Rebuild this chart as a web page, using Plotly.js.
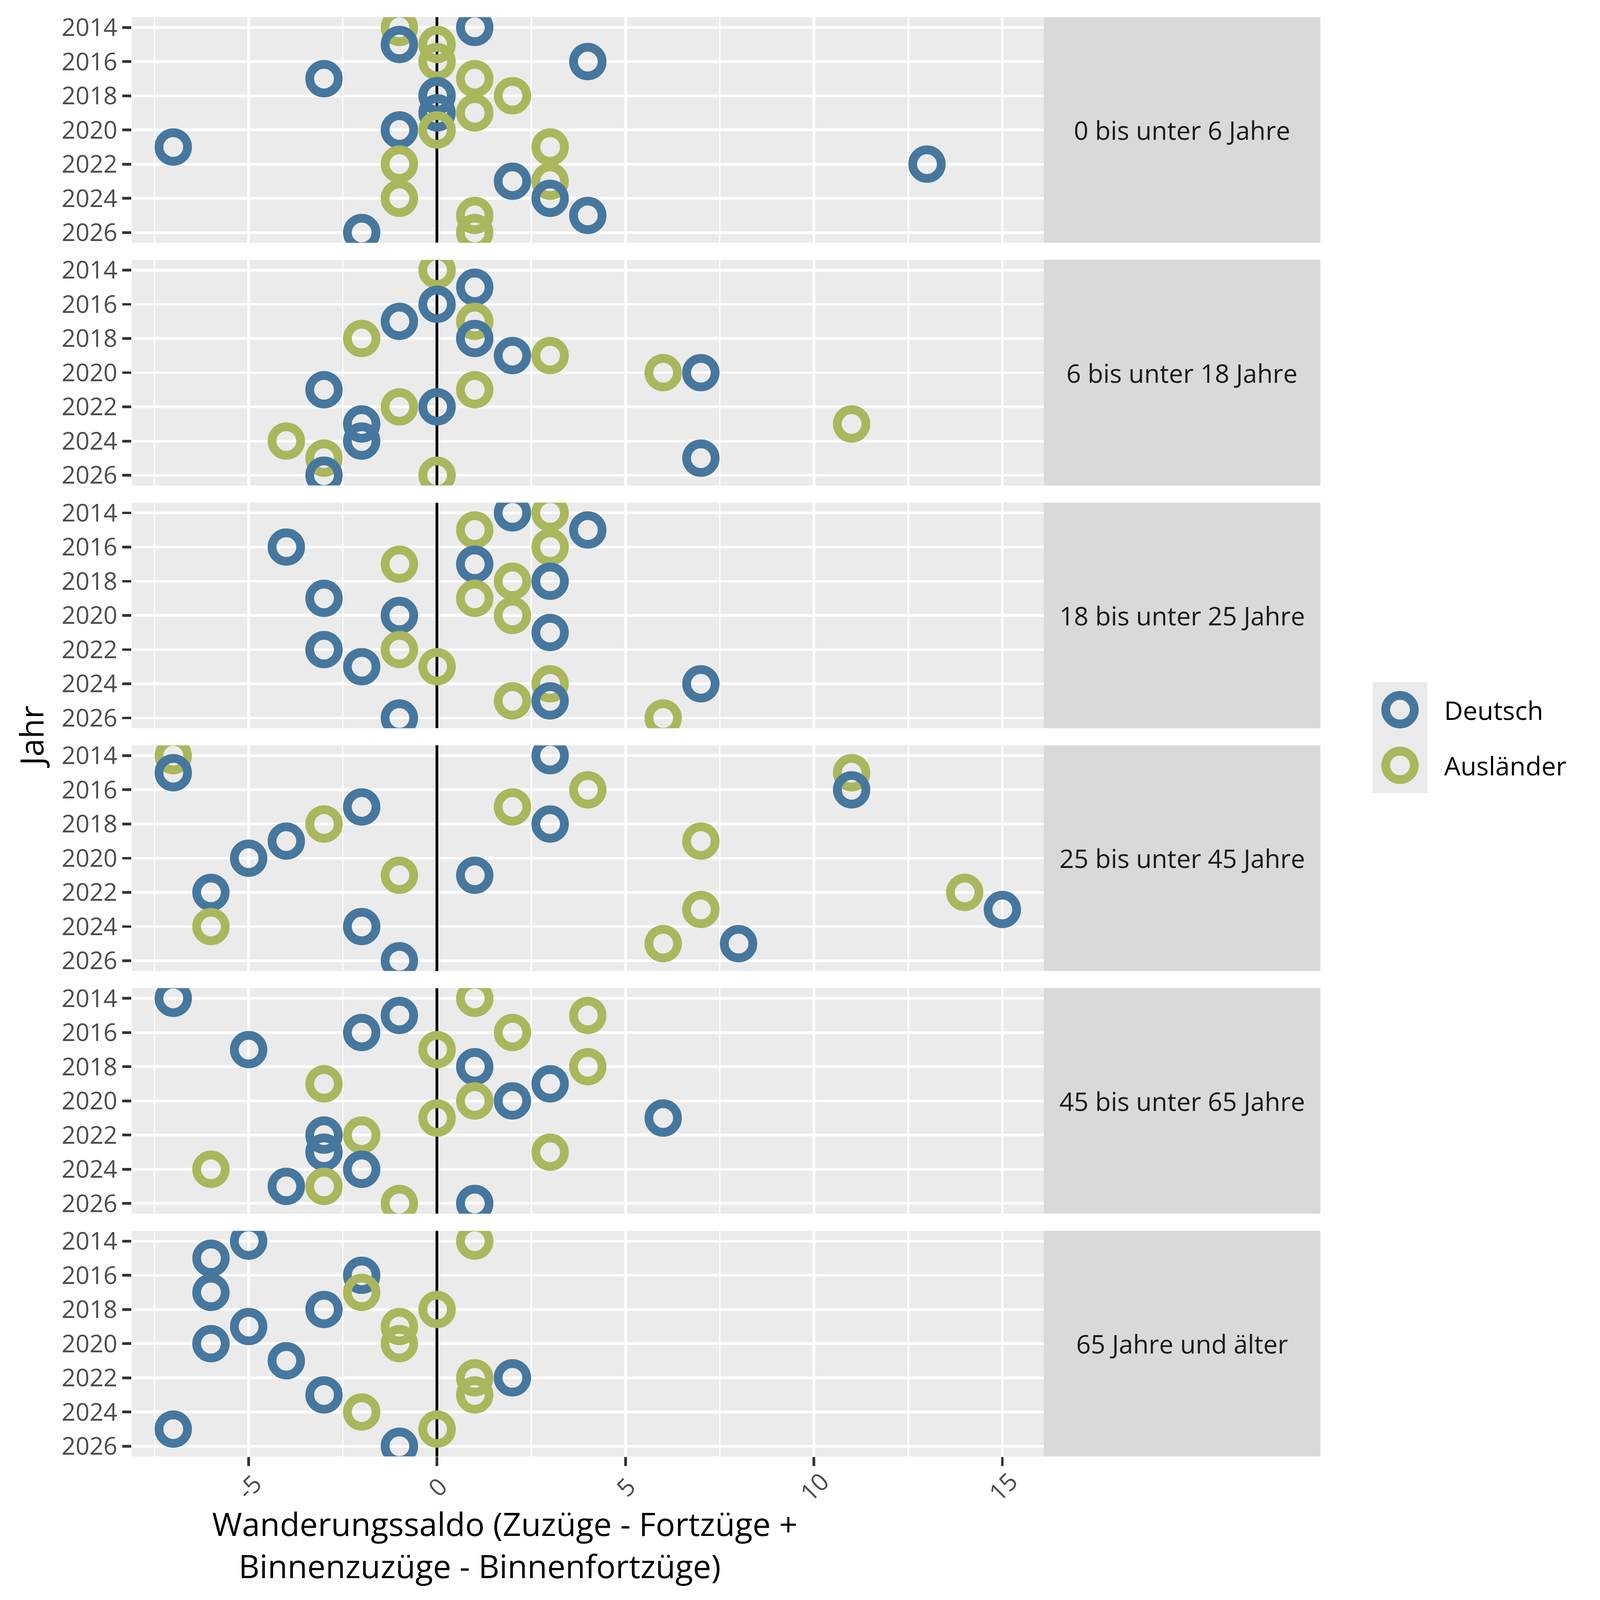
<!DOCTYPE html>
<html>
<head>
<meta charset="utf-8">
<script src="https://cdn.plot.ly/plotly-3.0.1.min.js"></script>
<style>html,body{margin:0;padding:0;background:#fff;overflow:hidden;}</style>
</head>
<body>
<div id="chart"></div>
<script>
// ---------------- data ----------------
const years = [2014, 2015, 2016, 2017, 2018, 2019, 2020, 2021, 2022, 2023, 2024, 2025, 2026];
const yearTicks = [2014, 2016, 2018, 2020, 2022, 2024, 2026];
const xTicks = [-5, 0, 5, 10, 15];
const xTickLabels = ['-5', '0', '5', '10', '15'];
const groups = ['Deutsch', 'Ausländer'];
const ageGroups = ['0 bis unter 6 Jahre', '6 bis unter 18 Jahre', '18 bis unter 25 Jahre',
                   '25 bis unter 45 Jahre', '45 bis unter 65 Jahre', '65 Jahre und älter'];

const deutsch_0_6      = [1, -1, 4, -3, 0, 0, -1, -7, 13, 2, 3, 4, -2];
const auslaender_0_6   = [-1, 0, 0, 1, 2, 1, 0, 3, -1, 3, -1, 1, 1];
const deutsch_6_18     = [null, 1, 0, -1, 1, 2, 7, -3, 0, -2, -2, 7, -3];
const auslaender_6_18  = [0, null, null, 1, -2, 3, 6, 1, -1, 11, -4, -3, 0];
const deutsch_18_25    = [2, 4, -4, 1, 3, -3, -1, 3, -3, -2, 7, 3, -1];
const auslaender_18_25 = [3, 1, 3, -1, 2, 1, 2, null, -1, 0, 3, 2, 6];
const deutsch_25_45    = [3, -7, 11, -2, 3, -4, -5, 1, -6, 15, -2, 8, -1];
const auslaender_25_45 = [-7, 11, 4, 2, -3, 7, null, -1, 14, 7, -6, 6, null];
const deutsch_45_65    = [-7, -1, -2, -5, 1, 3, 2, 6, -3, -3, -2, -4, 1];
const auslaender_45_65 = [1, 4, 2, 0, 4, -3, 1, 0, -2, 3, -6, -3, -1];
const deutsch_65       = [-5, -6, -2, -6, -3, -5, -6, -4, 2, -3, null, -7, -1];
const auslaender_65    = [1, null, null, -2, 0, -1, -1, null, 1, 1, -2, 0, null];

const xTitle1 = 'Wanderungssaldo (Zuzüge - Fortzüge +';
const xTitle2 = 'Binnenzuzüge - Binnenfortzüge)';
const yTitle = 'Jahr';

// ---------------- sizing (design basis 4200 px, scaled to the real viewport) ----------------
const BASE = 4200;
const VW = window.innerWidth || BASE, VH = window.innerHeight || BASE;
const S = Math.min(VW, VH) / BASE;
const W = Math.round(BASE * S), H = Math.round(BASE * S);
const sz = v => v * S;
document.getElementById('chart').style.width = W + 'px';
document.getElementById('chart').style.height = H + 'px';

const FONT = '"Open Sans", Lato, sans-serif';
const groupColors = ['#46779E', '#AAB75C'];
const panelData = [
  [deutsch_0_6, auslaender_0_6],
  [deutsch_6_18, auslaender_6_18],
  [deutsch_18_25, auslaender_18_25],
  [deutsch_25_45, auslaender_25_45],
  [deutsch_45_65, auslaender_45_65],
  [deutsch_65, auslaender_65]
];

const PX_LEFT = 346, PX_RIGHT = 2740, STRIP_RIGHT = 3466;
const PX_TOP = 45, PANEL_H = 592.2, GAP = 45;
const X = px => px / BASE;
const Y = py => 1 - py / BASE;

const traces = [];
const layout = {
  width: W, height: H,
  margin: {l: 0, r: 0, t: 0, b: 0, pad: 0},
  paper_bgcolor: '#FFFFFF',
  plot_bgcolor: '#EBEBEB',
  showlegend: false,
  font: {family: FONT, color: '#000000'},
  shapes: [],
  annotations: []
};

panelData.forEach((pd, i) => {
  const k = i + 1;
  const top = PX_TOP + i * (PANEL_H + GAP);
  const bottom = top + PANEL_H;
  const xs = [], ys = [], cs = [];
  years.forEach((yr, j) => {
    pd.forEach((series, g) => {
      if (series[j] !== null) { xs.push(series[j]); ys.push(yr); cs.push(groupColors[g]); }
    });
  });
  traces.push({
    type: 'scatter', mode: 'markers', x: xs, y: ys,
    xaxis: 'x' + (k === 1 ? '' : k), yaxis: 'y' + (k === 1 ? '' : k),
    marker: {symbol: 'circle-open', size: sz(75), color: cs, line: {width: sz(23)}},
    hoverinfo: 'skip', cliponaxis: true
  });
  const isBottom = (k === panelData.length);
  layout['xaxis' + (k === 1 ? '' : k)] = {
    domain: [X(PX_LEFT), X(PX_RIGHT)],
    range: [-8.1, 16.1], autorange: false,
    anchor: 'y' + (k === 1 ? '' : k),
    tickmode: 'array', tickvals: xTicks,
    showticklabels: false,
    ticks: isBottom ? 'outside' : '', ticklen: sz(24), tickwidth: sz(7), tickcolor: '#333333',
    showgrid: true, gridcolor: '#FFFFFF', gridwidth: sz(7),
    minor: {tick0: 0, dtick: 2.5, showgrid: true, gridcolor: '#FFFFFF', gridwidth: sz(3.5), ticks: ''},
    zeroline: true, zerolinecolor: '#000000', zerolinewidth: sz(7),
    showline: false, fixedrange: true
  };
  layout['yaxis' + (k === 1 ? '' : k)] = {
    domain: [Y(bottom), Y(top)],
    range: [2026.6, 2013.4], autorange: false,
    anchor: 'x' + (k === 1 ? '' : k),
    tickmode: 'array', tickvals: yearTicks, ticktext: yearTicks.map(String),
    ticks: 'outside', ticklen: sz(24), tickwidth: sz(7), tickcolor: '#333333',
    tickfont: {family: FONT, size: sz(64), color: '#4D4D4D'},
    ticklabelstandoff: sz(16),
    showgrid: true, gridcolor: '#FFFFFF', gridwidth: sz(7),
    zeroline: false, showline: false, fixedrange: true
  };
  layout.shapes.push({type: 'rect', xref: 'paper', yref: 'paper',
    x0: X(PX_RIGHT), x1: X(STRIP_RIGHT), y0: Y(bottom), y1: Y(top),
    fillcolor: '#D9D9D9', line: {width: 0}, layer: 'below'});
  layout.annotations.push({xref: 'paper', yref: 'paper',
    x: X((PX_RIGHT + STRIP_RIGHT) / 2), y: Y((top + bottom) / 2),
    xanchor: 'center', yanchor: 'middle', showarrow: false,
    text: ageGroups[i], font: {family: FONT, size: sz(67), color: '#1A1A1A'}});
});

// x tick labels, rotated and centred on their ticks
xTicks.forEach((v, i) => {
  layout.annotations.push({xref: 'x' + panelData.length, yref: 'paper',
    x: v, y: Y(3902), xanchor: 'center', yanchor: 'middle', showarrow: false,
    textangle: -45, text: xTickLabels[i],
    font: {family: FONT, size: sz(64), color: '#4D4D4D'}});
});

// axis titles (second line sits a little left of the first, as in the reference)
const NBSP = '\u00A0';
layout.annotations.push({xref: 'paper', yref: 'paper', x: X(1325), y: Y(4054),
  xanchor: 'center', yanchor: 'middle', align: 'center', showarrow: false,
  text: xTitle1 + '<br>' + xTitle2 + NBSP.repeat(6),
  font: {family: FONT, size: sz(85), color: '#000000'}});
layout.annotations.push({xref: 'paper', yref: 'paper', x: X(80), y: Y(1934),
  xanchor: 'center', yanchor: 'middle', showarrow: false, textangle: -90, text: yTitle,
  font: {family: FONT, size: sz(85), color: '#000000'}});

// legend with large keys as in the reference
const KEY_L = 3603, KEY_R = 3747, KEY_TOP = 1790, KEY_H = 146, R = 37.5;
groups.forEach((g, i) => {
  const t = KEY_TOP + i * KEY_H, cy = t + KEY_H / 2, cx = (KEY_L + KEY_R) / 2;
  layout.shapes.push({type: 'rect', xref: 'paper', yref: 'paper',
    x0: X(KEY_L), x1: X(KEY_R), y0: Y(t + KEY_H), y1: Y(t),
    fillcolor: '#EBEBEB', line: {width: 0}});
  layout.shapes.push({type: 'circle', xref: 'paper', yref: 'paper',
    x0: X(cx - R), x1: X(cx + R), y0: Y(cy + R), y1: Y(cy - R),
    fillcolor: 'rgba(0,0,0,0)', line: {color: groupColors[i], width: sz(23)}});
  layout.annotations.push({xref: 'paper', yref: 'paper', x: X(3789), y: Y(cy),
    xanchor: 'left', yanchor: 'middle', showarrow: false, text: g,
    font: {family: FONT, size: sz(68), color: '#000000'}});
});

Plotly.newPlot('chart', traces, layout, {staticPlot: true, displayModeBar: false});
</script>
</body>
</html>
